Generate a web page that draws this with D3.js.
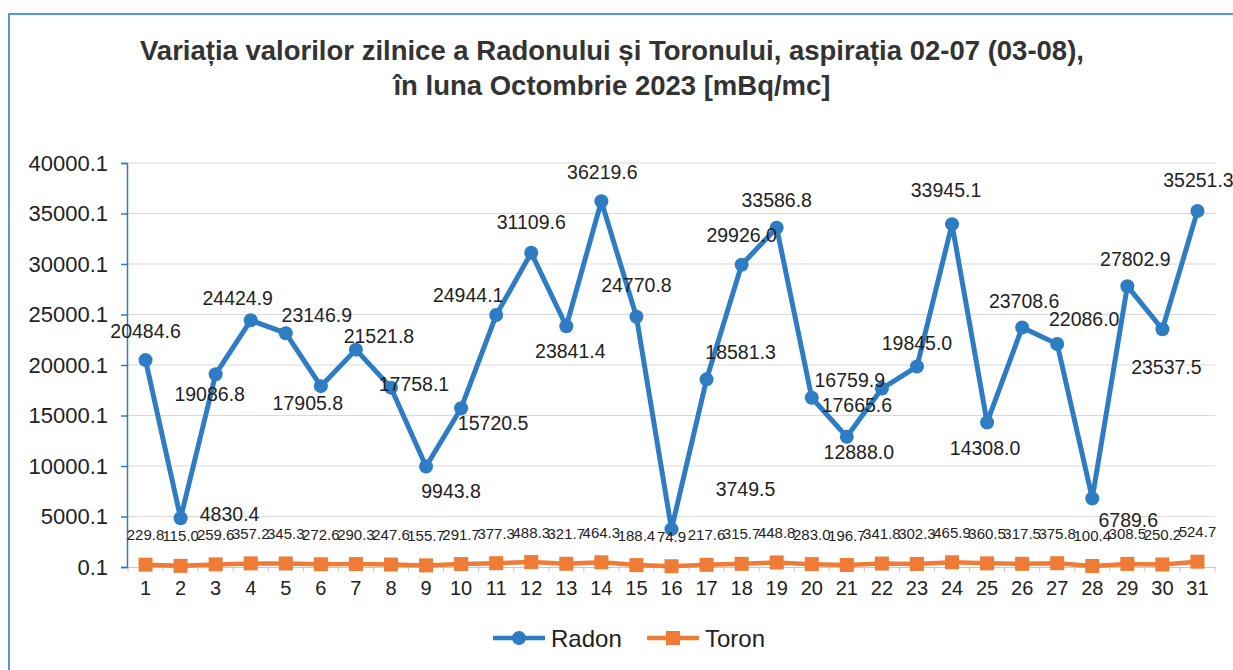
<!DOCTYPE html>
<html>
<head>
<meta charset="utf-8">
<script src="https://cdn.jsdelivr.net/npm/d3@7"></script>
<style>
  body { margin: 0; background: #fff; }
  svg { display: block; font-family: "Liberation Sans", Arial, sans-serif; }
</style>
</head>
<body>
<div id="chart"></div>
<script>
// data
var days = ["1","2","3","4","5","6","7","8","9","10","11","12","13","14","15","16",
            "17","18","19","20","21","22","23","24","25","26","27","28","29","30","31"];
var radon = [20484.6, 4830.4, 19086.8, 24424.9, 23146.9, 17905.8, 21521.8, 17758.1, 9943.8, 15720.5,
             24944.1, 31109.6, 23841.4, 36219.6, 24770.8, 3749.5, 18581.3, 29926.0, 33586.8, 16759.9,
             12888.0, 17665.6, 19845.0, 33945.1, 14308.0, 23708.6, 22086.0, 6789.6, 27802.9, 23537.5, 35251.3];
var toron = [229.8, 115.0, 259.6, 357.2, 345.3, 272.6, 290.3, 247.6, 155.7, 291.7,
             377.3, 488.3, 321.7, 464.3, 188.4, 74.9, 217.6, 315.7, 448.8, 283.0,
             196.7, 341.8, 302.3, 465.9, 360.5, 317.5, 375.8, 100.4, 308.5, 250.2, 524.7];
var yTicks = [0.1, 5000.1, 10000.1, 15000.1, 20000.1, 25000.1, 30000.1, 35000.1, 40000.1];
var seriesNames = ["Radon", "Toron"];
var titleLines = ["Variația valorilor zilnice a Radonului și Toronului, aspirația 02-07 (03-08),",
                  "în luna Octombrie 2023 [mBq/mc]"];

// where each radon label sits relative to its point (label nudges, like moved by hand in Excel)
var radonLabelNudge = [[0,-29],[49,-4],[-6,20],[-13,-22],[31,-18],[-13,17],[23,-14],[23,-4],[25,24],[32,15],
                       [-28,-20],[0,-31],[4,25],[1,-29],[0,-32],[74,-40],[34,-27],[0,-30],[0,-28],[38,-18],
                       [12,15],[-25,16],[0,-24],[-6,-34],[-2,26],[2,-27],[27,-25],[36,22],[8,-27],[4,38],[1,-31]];

var W = 1233, H = 670;
var blue = "#2e7cc4", orange = "#ee7b36";

var svg = d3.select("#chart").append("svg").attr("width", W).attr("height", H);

// frame
svg.append("rect").attr("x", 9).attr("y", 14).attr("width", W + 20).attr("height", H + 20)
  .attr("fill", "none").attr("stroke", "#3a8fdc").attr("stroke-width", 1.8);

// title
svg.selectAll("text.title").data(titleLines).enter().append("text")
  .attr("class", "title")
  .attr("x", 612)
  .attr("y", function(d, i) { return 60 + i * 35; })
  .attr("text-anchor", "middle")
  .attr("font-size", 27.5).attr("font-weight", "bold").attr("fill", "#333")
  .text(function(d) { return d; });

// scales
var x = d3.scaleBand().domain(days).range([128, 1215]);
var y = d3.scaleLinear().domain([0.1, 40000.1]).range([567, 163]);
var cx = function(d, i) { return x(days[i]) + x.bandwidth() / 2; };

// gridlines
svg.append("g").selectAll("line").data(yTicks.slice(1)).enter().append("line")
  .attr("x1", 128).attr("x2", 1215)
  .attr("y1", function(d) { return y(d); }).attr("y2", function(d) { return y(d); })
  .attr("stroke", "#d9d9d9").attr("stroke-width", 1);

// x axis
var xAxis = svg.append("g").attr("transform", "translate(0," + y(0.1) + ")")
  .call(d3.axisBottom(x).tickSize(0).tickPadding(14));
xAxis.select(".domain").attr("stroke", "#c8c8c8");
xAxis.selectAll("text").attr("font-size", 20).attr("fill", "#222").attr("font-family", "Liberation Sans, Arial, sans-serif");
// small ticks between categories
xAxis.selectAll("line.sep").data(days.concat(["end"])).enter().append("line")
  .attr("class", "sep")
  .attr("x1", function(d, i) { return x.range()[0] + i * x.step(); })
  .attr("x2", function(d, i) { return x.range()[0] + i * x.step(); })
  .attr("y1", 0).attr("y2", 5).attr("stroke", "#c8c8c8");

// y axis
var yAxis = svg.append("g").attr("transform", "translate(127,0)")
  .call(d3.axisLeft(y).tickValues(yTicks).tickSize(6).tickPadding(13)
    .tickFormat(function(d) { return d3.format(".1f")(d); }));
yAxis.select(".domain").attr("stroke", blue).attr("stroke-width", 1.5);
yAxis.selectAll(".tick line").attr("stroke", blue).attr("stroke-width", 1.5);
yAxis.selectAll("text").attr("font-size", 22).attr("fill", "#222").attr("font-family", "Liberation Sans, Arial, sans-serif");

// lines
var line = d3.line().x(cx).y(function(d) { return y(d); });
svg.append("path").datum(toron).attr("d", line)
  .attr("fill", "none").attr("stroke", orange).attr("stroke-width", 4.5).attr("stroke-linejoin", "round");
svg.append("path").datum(radon).attr("d", line)
  .attr("fill", "none").attr("stroke", blue).attr("stroke-width", 5).attr("stroke-linejoin", "round");

// markers
svg.append("g").selectAll("rect").data(toron).enter().append("rect")
  .attr("x", function(d, i) { return cx(d, i) - 7; })
  .attr("y", function(d) { return y(d) - 7; })
  .attr("width", 14).attr("height", 14).attr("fill", orange);
svg.append("g").selectAll("circle").data(radon).enter().append("circle")
  .attr("cx", cx).attr("cy", function(d) { return y(d); })
  .attr("r", 7).attr("fill", blue);

// value labels
svg.append("g").selectAll("text").data(toron).enter().append("text")
  .attr("x", cx).attr("y", function(d) { return y(d) - 30; })
  .attr("text-anchor", "middle").attr("dominant-baseline", "central")
  .attr("font-size", 15).attr("fill", "#222")
  .text(function(d) { return d3.format(".1f")(d); });
svg.append("g").selectAll("text").data(radon).enter().append("text")
  .attr("x", function(d, i) { return cx(d, i) + radonLabelNudge[i][0]; })
  .attr("y", function(d, i) { return y(d) + radonLabelNudge[i][1]; })
  .attr("text-anchor", "middle").attr("dominant-baseline", "central")
  .attr("font-size", 19.5).attr("fill", "#222")
  .text(function(d) { return d3.format(".1f")(d); });

// legend
var legend = svg.append("g").selectAll("g").data(seriesNames).enter().append("g")
  .attr("transform", function(d, i) { return "translate(" + (493 + i * 154) + ",638)"; });
legend.append("line").attr("x1", 0).attr("x2", 52).attr("y1", 0).attr("y2", 0)
  .attr("stroke", function(d, i) { return i ? orange : blue; }).attr("stroke-width", 4.5);
legend.each(function(d, i) {
  var g = d3.select(this);
  if (i == 0) g.append("circle").attr("cx", 26).attr("r", 7).attr("fill", blue);
  else g.append("rect").attr("x", 19).attr("y", -7).attr("width", 14).attr("height", 14).attr("fill", orange);
});
legend.append("text").attr("x", 58).attr("y", 0).attr("dominant-baseline", "central")
  .attr("font-size", 24).attr("fill", "#222")
  .text(function(d) { return d; });
</script>
</body>
</html>
